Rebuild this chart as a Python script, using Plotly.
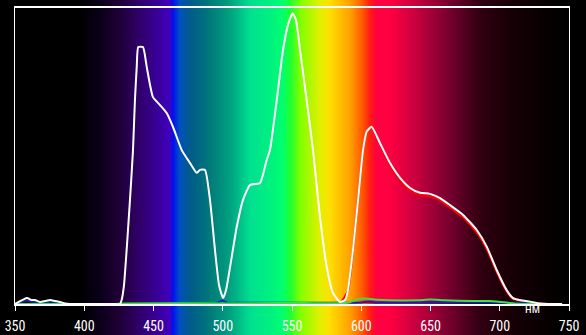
import base64
import plotly.graph_objects as go

# ---- data ----
white_nm = [350, 358.7, 361.6, 364.4, 368, 371.7, 375.3, 378.9, 382.5, 386.1, 389.7, 400, 420, 425.8,
            427.0, 428.7, 430.6, 433.0, 435.2, 436.6, 437.9, 439.0, 442.4, 445.1, 447.5, 449.6, 454.7,
            459.5, 464.1, 470.4, 476.4, 481.2, 483.6, 487.2, 490.8, 494.4, 497.3, 500.2, 502.4, 505.3,
            510.1, 514.6, 519.7, 526.9, 531.7, 534.1, 539.0, 543.5, 547.1, 550.5, 552.9, 555.8, 560.6,
            565.2, 570.2, 575.1, 579.6, 584.7, 588.3, 590.4, 594.0, 597.7, 601.3, 603.9, 607.5, 613.5,
            620.8, 628.0, 635.2, 642.4, 649.6, 656.9, 664.1, 673.5, 683.4, 690.6, 697.8, 705.0, 709.6,
            714.6, 721.8, 729.1, 735, 745]
white_val = [0, 0.020, 0.0135, 0.0135, 0.007, 0.010, 0.0135, 0.010, 0.007, 0.002, 0, 0, 0, 0,
             0.0135, 0.064, 0.182, 0.351, 0.520, 0.689, 0.801, 0.868, 0.868, 0.801, 0.740, 0.699, 0.672,
             0.645, 0.598, 0.520, 0.476, 0.443, 0.453, 0.453, 0.351, 0.182, 0.064, 0.020, 0.047, 0.125,
             0.260, 0.351, 0.402, 0.409, 0.486, 0.520, 0.689, 0.858, 0.943, 0.982, 0.959, 0.858, 0.689,
             0.520, 0.294, 0.125, 0.037, 0.007, 0.0135, 0.047, 0.182, 0.351, 0.520, 0.582, 0.599, 0.544,
             0.476, 0.426, 0.392, 0.376, 0.372, 0.358, 0.334, 0.301, 0.250, 0.194, 0.115, 0.047, 0.020,
             0.0135, 0.008, 0.002, 0, 0]

red_nm = [350, 580, 585, 590.4, 594.0, 597.7, 601.3, 603.9, 607.5, 613.5, 620.8, 628.0, 635.2, 642.4,
          649.6, 656.9, 664.1, 673.5, 683.4, 690.6, 697.8, 705.0, 709.6, 714.6, 722, 730, 745]
red_val = [0, 0, 0.005, 0.045, 0.180, 0.350, 0.518, 0.580, 0.597, 0.538, 0.468, 0.418, 0.384, 0.368,
           0.364, 0.350, 0.325, 0.292, 0.241, 0.186, 0.108, 0.042, 0.017, 0.010, 0.005, 0.001, 0]

green_nm = [350, 420, 430, 500, 540, 560, 590, 599, 605, 612, 620, 640, 650, 660, 680, 693, 705, 712, 745]
green_val = [0, 0, 0.002, 0.002, 0.003, 0.003, 0.004, 0.018, 0.018, 0.014, 0.0125, 0.0125, 0.015,
             0.013, 0.010, 0.010, 0.005, 0.001, 0]

blue_nm = [350, 358, 362, 366, 370, 375, 380, 386, 390, 495, 500, 503, 510, 600, 605, 610, 650, 700, 720, 730, 745]
blue_val = [0, 0.012, 0.008, 0.006, 0.004, 0.008, 0.006, 0.001, 0, 0.002, 0.012, 0.004, 0.004, 0.005,
            0.008, 0.005, 0.006, 0.005, 0.003, 0, 0]

tick_vals = [350, 400, 450, 500, 550, 600, 650, 700, 750]
tick_text = ["350", "400", "450", "500", "550", "600", "650", "700", "750"]
unit_label = "нм"

# background spectrum colour stops (nm, colour)
spectrum_nm = [350, 397, 411, 426, 440, 455, 462, 464, 469, 476, 484, 491, 505, 520, 534, 543, 549,
               556, 570, 577, 592, 600, 606, 611, 620, 637, 662, 686, 710, 734, 750]
spectrum_col = ["#000000", "#000000", "#0a0018", "#200038", "#30006a", "#3a00a0", "#4000c0", "#0010f0",
                "#0050c0", "#005a8a", "#006a80", "#007a7a", "#00a080", "#00e090", "#00f080", "#00ff70",
                "#20ff30", "#80ff00", "#e0f000", "#ffe000", "#ffa000", "#ff6000", "#ff2010", "#ff0040",
                "#ff0040", "#d00040", "#7a0030", "#300010", "#150005", "#080000", "#000000"]

# ---- build gradient image ----
stops = "".join(
    f'<stop offset="{(n - 350) / 400 * 100:.3f}%" stop-color="{c}"/>'
    for n, c in zip(spectrum_nm, spectrum_col)
)
svg = (
    '<svg xmlns="http://www.w3.org/2000/svg" width="400" height="100" viewBox="0 0 400 100" '
    'preserveAspectRatio="none"><defs><linearGradient id="g" x1="0" y1="0" x2="1" y2="0">'
    + stops + '</linearGradient></defs><rect x="0" y="0" width="400" height="100" fill="url(#g)"/></svg>'
)
src = "data:image/svg+xml;base64," + base64.b64encode(svg.encode()).decode()

W, H = 586, 335
ML, MR, MT, MB = 15, 17, 8, 31
ph = H - MT - MB

line_opts = dict(shape="spline", smoothing=0.5, width=2)

fig = go.Figure()
fig.add_trace(go.Scatter(x=red_nm, y=red_val, mode="lines", line=dict(color="#ff0000", **line_opts),
                         hoverinfo="skip", showlegend=False))
fig.add_trace(go.Scatter(x=blue_nm, y=blue_val, mode="lines", line=dict(color="#1020c8", **line_opts),
                         hoverinfo="skip", showlegend=False))
fig.add_trace(go.Scatter(x=green_nm, y=green_val, mode="lines", line=dict(color="#40e040", **line_opts),
                         hoverinfo="skip", showlegend=False))
fig.add_trace(go.Scatter(x=white_nm, y=white_val, mode="lines", line=dict(color="#ffffff", **line_opts),
                         hoverinfo="skip", showlegend=False))

fig.add_layout_image(dict(source=src, xref="paper", yref="paper", x=0, y=1 + MT / ph,
                          sizex=1, sizey=H / ph, sizing="stretch", xanchor="left", yanchor="top",
                          layer="below"))

fig.add_annotation(x=724, y=-5 / ph, xref="x", yref="paper", text=unit_label, showarrow=False,
                   font=dict(family="Liberation Sans", size=12, color="#ffffff"),
                   xanchor="center", yanchor="middle")

font_main = "Liberation Sans Narrow, Roboto Condensed, Liberation Sans, Arial, sans-serif"
fig.update_layout(
    width=W, height=H,
    margin=dict(l=ML, r=MR, t=MT, b=MB, autoexpand=False),
    paper_bgcolor="#000000",
    plot_bgcolor="rgba(0,0,0,0)",
    font=dict(family=font_main, size=14, color="#ffffff"),
    xaxis=dict(range=[350, 750], tickvals=tick_vals, ticktext=tick_text, showgrid=False,
               zeroline=False, showline=True, linecolor="#ffffff", linewidth=2, mirror=True,
               ticks="outside", ticklen=5, tickwidth=1, tickcolor="#ffffff", automargin=False,
               ticklabelstandoff=3,
               tickfont=dict(family=font_main, size=14, color="#ffffff"), fixedrange=True),
    yaxis=dict(range=[0, 1], showgrid=False, zeroline=False, showticklabels=False, automargin=False,
               showline=True, linecolor="#ffffff", linewidth=1, mirror=True, ticks="", fixedrange=True),
)

fig.write_html("out.html")
